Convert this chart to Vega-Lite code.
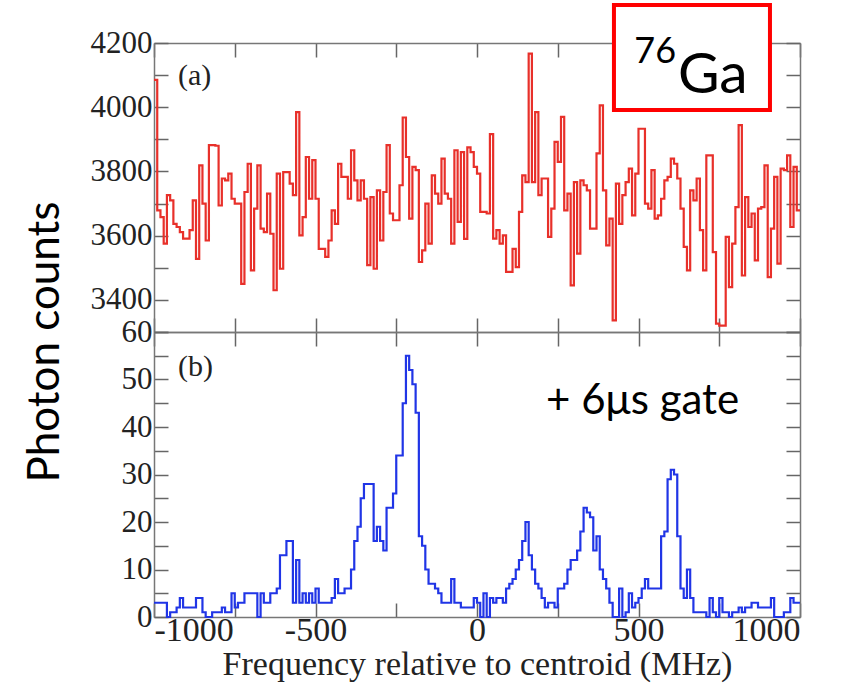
{
 "$schema": "https://vega.github.io/schema/vega-lite/v6.json",
 "padding": {"left": 24, "top": 3, "right": 20, "bottom": 3},
 "background": "white",
 "title": {"text": "Photon counts", "orient": "left", "anchor": "middle", "font": "Lato", "fontSize": 44, "fontWeight": "normal", "color": "#000", "offset": 22},
 "config": {
  "view": {"stroke": null},
  "axis": {"domainColor": "#777", "domainWidth": 1.5, "tickColor": "#666", "tickWidth": 1.5, "tickSize": -14, "labelFont": "Liberation Serif", "labelFontSize": 34, "labelColor": "#222", "labelPadding": 12, "grid": false, "titleFont": "Liberation Serif", "titleFontSize": 34, "titleFontWeight": "normal", "titleColor": "#222"},
  "axisY": {"labelFontSize": 31, "labelPadding": 16}
 },
 "spacing": 0,
 "bounds": "flush",
 "datasets": {
  "top": [
   {"f":-1000,"c":4085},{"f":-990,"c":3679},{"f":-980,"c":3658},{"f":-970,"c":3575},{"f":-960,"c":3726},{"f":-950,"c":3710},{"f":-940,"c":3637},{"f":-930,"c":3627},{"f":-920,"c":3611},{"f":-910,"c":3591},
   {"f":-900,"c":3591},{"f":-890,"c":3617},{"f":-880,"c":3710},{"f":-870,"c":3528},{"f":-860,"c":3819},{"f":-850,"c":3700},{"f":-840,"c":3585},{"f":-830,"c":3882},{"f":-820,"c":3882},{"f":-810,"c":3880},
   {"f":-800,"c":3694},{"f":-790,"c":3778},{"f":-780,"c":3772},{"f":-770,"c":3793},{"f":-760,"c":3715},{"f":-750,"c":3700},{"f":-740,"c":3700},{"f":-730,"c":3450},{"f":-720,"c":3736},{"f":-710,"c":3824},
   {"f":-700,"c":3492},{"f":-690,"c":3684},{"f":-680,"c":3819},{"f":-670,"c":3622},{"f":-660,"c":3611},{"f":-650,"c":3731},{"f":-640,"c":3606},{"f":-630,"c":3430},{"f":-620,"c":3793},{"f":-610,"c":3497},
   {"f":-600,"c":3798},{"f":-590,"c":3798},{"f":-580,"c":3762},{"f":-570,"c":3726},{"f":-560,"c":3985},{"f":-550,"c":3601},{"f":-540,"c":3658},{"f":-530,"c":3845},{"f":-520,"c":3715},{"f":-510,"c":3835},
   {"f":-500,"c":3715},{"f":-490,"c":3559},{"f":-480,"c":3559},{"f":-470,"c":3534},{"f":-460,"c":3585},{"f":-450,"c":3679},{"f":-440,"c":3637},{"f":-430,"c":3824},{"f":-420,"c":3783},{"f":-410,"c":3783},
   {"f":-400,"c":3715},{"f":-390,"c":3866},{"f":-380,"c":3772},{"f":-370,"c":3710},{"f":-360,"c":3772},{"f":-350,"c":3715},{"f":-340,"c":3508},{"f":-330,"c":3720},{"f":-320,"c":3497},{"f":-310,"c":3741},
   {"f":-300,"c":3585},{"f":-290,"c":3736},{"f":-280,"c":3882},{"f":-270,"c":3669},{"f":-260,"c":3648},{"f":-250,"c":3648},{"f":-240,"c":3757},{"f":-230,"c":3968},{"f":-220,"c":3845},{"f":-210,"c":3653},
   {"f":-200,"c":3814},{"f":-190,"c":3804},{"f":-180,"c":3518},{"f":-170,"c":3554},{"f":-160,"c":3700},{"f":-150,"c":3575},{"f":-140,"c":3788},{"f":-130,"c":3731},{"f":-120,"c":3700},{"f":-110,"c":3840},
   {"f":-100,"c":3731},{"f":-90,"c":3715},{"f":-80,"c":3575},{"f":-70,"c":3866},{"f":-60,"c":3643},{"f":-50,"c":3860},{"f":-40,"c":3590},{"f":-30,"c":3875},{"f":-20,"c":3860},{"f":-10,"c":3814},
   {"f":0,"c":3793},{"f":10,"c":3674},{"f":20,"c":3674},{"f":30,"c":3669},{"f":40,"c":3916},{"f":50,"c":3591},{"f":60,"c":3617},{"f":70,"c":3575},{"f":80,"c":3601},{"f":90,"c":3487},
   {"f":100,"c":3487},{"f":110,"c":3559},{"f":120,"c":3502},{"f":130,"c":3674},{"f":140,"c":3788},{"f":150,"c":3767},{"f":160,"c":4167},{"f":170,"c":3767},{"f":180,"c":3985},{"f":190,"c":3726},
   {"f":200,"c":3778},{"f":210,"c":3778},{"f":220,"c":3596},{"f":230,"c":3684},{"f":240,"c":3892},{"f":250,"c":3830},{"f":260,"c":3970},{"f":270,"c":3679},{"f":280,"c":3731},{"f":290,"c":3445},
   {"f":300,"c":3767},{"f":310,"c":3544},{"f":320,"c":3772},{"f":330,"c":3757},{"f":340,"c":3741},{"f":350,"c":3622},{"f":360,"c":3622},{"f":370,"c":3856},{"f":380,"c":4006},{"f":390,"c":3741},
   {"f":400,"c":3570},{"f":410,"c":3653},{"f":420,"c":3336},{"f":430,"c":3762},{"f":440,"c":3637},{"f":450,"c":3726},{"f":460,"c":3767},{"f":470,"c":3809},{"f":480,"c":3663},{"f":490,"c":3793},
   {"f":500,"c":3933},{"f":510,"c":3933},{"f":520,"c":3700},{"f":530,"c":3684},{"f":540,"c":3804},{"f":550,"c":3653},{"f":560,"c":3663},{"f":570,"c":3715},{"f":580,"c":3772},{"f":590,"c":3783},
   {"f":600,"c":3840},{"f":610,"c":3824},{"f":620,"c":3778},{"f":630,"c":3684},{"f":640,"c":3565},{"f":650,"c":3492},{"f":660,"c":3741},{"f":670,"c":3710},{"f":680,"c":3778},{"f":690,"c":3617},
   {"f":700,"c":3492},{"f":710,"c":3850},{"f":720,"c":3850},{"f":730,"c":3549},{"f":740,"c":3326},{"f":750,"c":3320},{"f":760,"c":3320},{"f":770,"c":3596},{"f":780,"c":3440},{"f":790,"c":3575},
   {"f":800,"c":3689},{"f":810,"c":3944},{"f":820,"c":3476},{"f":830,"c":3720},{"f":840,"c":3627},{"f":850,"c":3669},{"f":860,"c":3523},{"f":870,"c":3684},{"f":880,"c":3689},{"f":890,"c":3819},
   {"f":900,"c":3471},{"f":910,"c":3622},{"f":920,"c":3783},{"f":930,"c":3513},{"f":940,"c":3809},{"f":950,"c":3804},{"f":960,"c":3850},{"f":970,"c":3627},{"f":980,"c":3814},{"f":990,"c":3679},
   {"f":1000,"c":3679}
  ],
  "bot": [
   {"f":-1000,"c":3},{"f":-990,"c":3},{"f":-980,"c":3},{"f":-970,"c":3},{"f":-960,"c":0},{"f":-950,"c":1},{"f":-940,"c":1},{"f":-930,"c":2},{"f":-920,"c":4},{"f":-910,"c":2},
   {"f":-900,"c":2},{"f":-890,"c":2},{"f":-880,"c":2},{"f":-870,"c":4},{"f":-860,"c":4},{"f":-850,"c":1},{"f":-840,"c":0},{"f":-830,"c":0},{"f":-820,"c":1},{"f":-810,"c":1},
   {"f":-800,"c":1},{"f":-790,"c":2},{"f":-780,"c":1},{"f":-770,"c":1},{"f":-760,"c":5},{"f":-750,"c":2},{"f":-740,"c":3},{"f":-730,"c":3},{"f":-720,"c":5},{"f":-710,"c":5},
   {"f":-700,"c":5},{"f":-690,"c":5},{"f":-680,"c":0},{"f":-670,"c":5},{"f":-660,"c":3},{"f":-650,"c":3},{"f":-640,"c":5},{"f":-630,"c":5},{"f":-620,"c":6},{"f":-610,"c":13},
   {"f":-600,"c":13},{"f":-590,"c":16},{"f":-580,"c":16},{"f":-570,"c":3},{"f":-560,"c":12},{"f":-550,"c":3},{"f":-540,"c":5},{"f":-530,"c":3},{"f":-520,"c":5},{"f":-510,"c":3},
   {"f":-500,"c":6},{"f":-490,"c":3},{"f":-480,"c":3},{"f":-470,"c":3},{"f":-460,"c":3},{"f":-450,"c":4},{"f":-440,"c":8},{"f":-430,"c":5},{"f":-420,"c":5},{"f":-410,"c":6},
   {"f":-400,"c":6},{"f":-390,"c":10},{"f":-380,"c":16},{"f":-370,"c":19},{"f":-360,"c":25},{"f":-350,"c":28},{"f":-340,"c":28},{"f":-330,"c":28},{"f":-320,"c":16},{"f":-310,"c":19},
   {"f":-300,"c":16},{"f":-290,"c":14},{"f":-280,"c":23},{"f":-270,"c":23},{"f":-260,"c":26},{"f":-250,"c":34},{"f":-240,"c":34},{"f":-230,"c":45},{"f":-220,"c":55},{"f":-210,"c":52},
   {"f":-200,"c":49},{"f":-190,"c":43},{"f":-180,"c":17},{"f":-170,"c":15},{"f":-160,"c":10},{"f":-150,"c":7},{"f":-140,"c":7},{"f":-130,"c":6},{"f":-120,"c":5},{"f":-110,"c":3},
   {"f":-100,"c":3},{"f":-90,"c":3},{"f":-80,"c":8},{"f":-70,"c":3},{"f":-60,"c":3},{"f":-50,"c":2},{"f":-40,"c":2},{"f":-30,"c":2},{"f":-20,"c":2},{"f":-10,"c":4},
   {"f":0,"c":3},{"f":10,"c":0},{"f":20,"c":5},{"f":30,"c":0},{"f":40,"c":4},{"f":50,"c":3},{"f":60,"c":4},{"f":70,"c":4},{"f":80,"c":3},{"f":90,"c":6},
   {"f":100,"c":7},{"f":110,"c":8},{"f":120,"c":10},{"f":130,"c":12},{"f":140,"c":16},{"f":150,"c":20},{"f":160,"c":13},{"f":170,"c":10},{"f":180,"c":7},{"f":190,"c":6},
   {"f":200,"c":4},{"f":210,"c":2},{"f":220,"c":3},{"f":230,"c":3},{"f":240,"c":2},{"f":250,"c":6},{"f":260,"c":6},{"f":270,"c":7},{"f":280,"c":10},{"f":290,"c":12},
   {"f":300,"c":12},{"f":310,"c":14},{"f":320,"c":18},{"f":330,"c":23},{"f":340,"c":22},{"f":350,"c":21},{"f":360,"c":14},{"f":370,"c":17},{"f":380,"c":10},{"f":390,"c":8},
   {"f":400,"c":6},{"f":410,"c":3},{"f":420,"c":0},{"f":430,"c":0},{"f":440,"c":6},{"f":450,"c":0},{"f":460,"c":1},{"f":470,"c":5},{"f":480,"c":2},{"f":490,"c":3},
   {"f":500,"c":4},{"f":510,"c":6},{"f":520,"c":8},{"f":530,"c":6},{"f":540,"c":6},{"f":550,"c":6},{"f":560,"c":6},{"f":570,"c":17},{"f":580,"c":18},{"f":590,"c":29},
   {"f":600,"c":31},{"f":610,"c":30},{"f":620,"c":17},{"f":630,"c":6},{"f":640,"c":4},{"f":650,"c":10},{"f":660,"c":4},{"f":670,"c":1},{"f":680,"c":1},{"f":690,"c":1},
   {"f":700,"c":1},{"f":710,"c":0},{"f":720,"c":4},{"f":730,"c":1},{"f":740,"c":0},{"f":750,"c":4},{"f":760,"c":1},{"f":770,"c":1},{"f":780,"c":0},{"f":790,"c":1},
   {"f":800,"c":1},{"f":810,"c":2},{"f":820,"c":1},{"f":830,"c":2},{"f":840,"c":2},{"f":850,"c":3},{"f":860,"c":3},{"f":870,"c":2},{"f":880,"c":2},{"f":890,"c":2},
   {"f":900,"c":2},{"f":910,"c":4},{"f":920,"c":0},{"f":930,"c":0},{"f":940,"c":0},{"f":950,"c":1},{"f":960,"c":1},{"f":970,"c":4},{"f":980,"c":3},{"f":990,"c":3},
   {"f":1000,"c":3}
  ]
 },
 "vconcat": [
  {
   "width": 646,
   "height": 289,
   "layer": [
    {
     "data": {"name": "top"},
     "mark": {"type": "line", "interpolate": "step-after", "color": "#e8302a", "strokeWidth": 2.2},
     "encoding": {
      "x": {"field": "f", "type": "quantitative", "scale": {"domain": [-1000, 1000], "nice": false}, "axis": {"orient": "bottom", "values": [-1000,-750,-500,-250,0,250,500,750,1000], "labels": false, "title": null}},
      "y": {"field": "c", "type": "quantitative", "scale": {"domain": [3300, 4200], "nice": false, "zero": false}, "axis": {"orient": "left", "values": [3300,3400,3500,3600,3700,3800,3900,4000,4100,4200], "labelExpr": "datum.value % 200 == 0 && datum.value >= 3400 ? '' + datum.value : ''", "title": null}}
     }
    },
    {
     "data": {"name": "top"},
     "mark": {"type": "line", "opacity": 0},
     "encoding": {
      "x": {"field": "f", "type": "quantitative", "axis": {"orient": "top", "values": [-1000,-750,-500,-250,0,250,500,750,1000], "labels": false, "title": null}},
      "y": {"field": "c", "type": "quantitative", "axis": {"orient": "right", "values": [3300,3400,3500,3600,3700,3800,3900,4000,4100,4200], "labels": false, "title": null}}
     }
    },
    {
     "data": {"values": [{"f1": 424, "f2": 907, "c1": 4318, "c2": 3991}]},
     "mark": {"type": "rect", "fill": "white", "stroke": "#ff0000", "strokeWidth": 4},
     "encoding": {
      "x": {"field": "f1", "type": "quantitative", "axis": null},
      "x2": {"field": "f2"},
      "y": {"field": "c1", "type": "quantitative", "axis": null},
      "y2": {"field": "c2"}
     }
    },
    {
     "data": {"values": [{"f": 487, "c": 4138, "t": "76"}]},
     "mark": {"type": "text", "font": "Lato", "fontSize": 36, "align": "left", "baseline": "alphabetic", "color": "#000"},
     "encoding": {
      "x": {"field": "f", "type": "quantitative", "axis": null},
      "y": {"field": "c", "type": "quantitative", "axis": null},
      "text": {"field": "t"}
     }
    },
    {
     "data": {"values": [{"f": 622, "c": 4044, "t": "Ga"}]},
     "mark": {"type": "text", "font": "Lato", "fontSize": 57, "align": "left", "baseline": "alphabetic", "color": "#000"},
     "encoding": {
      "x": {"field": "f", "type": "quantitative", "axis": null},
      "y": {"field": "c", "type": "quantitative", "axis": null},
      "text": {"field": "t"}
     }
    },
    {
     "data": {"values": [{"f": -926, "c": 4097, "t": "(a)"}]},
     "mark": {"type": "text", "font": "Liberation Serif", "fontSize": 30, "align": "left", "baseline": "middle", "color": "#222"},
     "encoding": {
      "x": {"field": "f", "type": "quantitative", "axis": null},
      "y": {"field": "c", "type": "quantitative", "axis": null},
      "text": {"field": "t"}
     }
    }
   ],
   "resolve": {"axis": {"x": "independent", "y": "independent"}}
  },
  {
   "width": 646,
   "height": 285,
   "layer": [
    {
     "data": {"name": "bot"},
     "mark": {"type": "line", "interpolate": "step-after", "color": "#2035e6", "strokeWidth": 2.2},
     "encoding": {
      "x": {"field": "f", "type": "quantitative", "scale": {"domain": [-1000, 1000], "nice": false}, "axis": {"orient": "bottom", "values": [-1000,-750,-500,-250,0,250,500,750,1000], "labelExpr": "datum.value % 500 == 0 ? '' + datum.value : ''", "labelPadding": 10, "title": "Frequency relative to centroid (MHz)", "titlePadding": 0}},
      "y": {"field": "c", "type": "quantitative", "scale": {"domain": [0, 60], "nice": false}, "axis": {"orient": "left", "values": [0,5,10,15,20,25,30,35,40,45,50,55,60], "labelExpr": "datum.value % 10 == 0 ? '' + datum.value : ''", "title": null}}
     }
    },
    {
     "data": {"name": "bot"},
     "mark": {"type": "line", "opacity": 0},
     "encoding": {
      "x": {"field": "f", "type": "quantitative", "axis": {"orient": "top", "values": [-1000,-750,-500,-250,0,250,500,750,1000], "labels": false, "title": null}},
      "y": {"field": "c", "type": "quantitative", "axis": {"orient": "right", "values": [0,5,10,15,20,25,30,35,40,45,50,55,60], "labels": false, "title": null}}
     }
    },
    {
     "data": {"values": [{"f": -926, "c": 52.7, "t": "(b)"}]},
     "mark": {"type": "text", "font": "Liberation Serif", "fontSize": 30, "align": "left", "baseline": "middle", "color": "#222"},
     "encoding": {
      "x": {"field": "f", "type": "quantitative", "axis": null},
      "y": {"field": "c", "type": "quantitative", "axis": null},
      "text": {"field": "t"}
     }
    },
    {
     "data": {"values": [{"f": 214, "c": 45.4, "t": "+ 6μs gate"}]},
     "mark": {"type": "text", "font": "Lato", "fontSize": 42, "align": "left", "baseline": "middle", "color": "#000"},
     "encoding": {
      "x": {"field": "f", "type": "quantitative", "axis": null},
      "y": {"field": "c", "type": "quantitative", "axis": null},
      "text": {"field": "t"}
     }
    }
   ],
   "resolve": {"axis": {"x": "independent", "y": "independent"}}
  }
 ]
}
